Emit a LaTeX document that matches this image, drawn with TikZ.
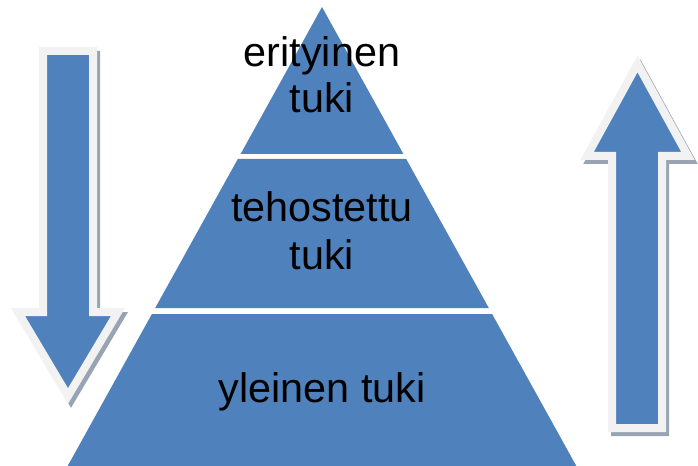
\documentclass[tikz,border=0pt]{standalone}
\usepackage{fontspec}
\setmainfont{Liberation Sans}
\definecolor{pblue}{HTML}{4F81BD}
\definecolor{rimc}{HTML}{F2F2F2}
\definecolor{shadc}{HTML}{98A4B4}
\begin{document}
\begin{tikzpicture}[x=0.75pt,y=-0.75pt,
  band/.style={fill=pblue,draw=none},
  arrowbody/.style={fill=pblue,draw=rimc,line width=6pt,line join=miter},
  arrowshadow/.style={fill=shadc,draw=shadc,line width=6pt,line join=miter},
  lbl/.style={anchor=base,inner sep=0pt,font=\fontsize{31}{36}\selectfont,text=black}]
\useasboundingbox (0,0) rectangle (698,466);
% pyramid bands
\path[band] (322,7) -- (403.4,154) -- (240.6,154) -- cycle;
\path[band] (237.8,159) -- (406.2,159) -- (488.8,308) -- (155.2,308) -- cycle;
\path[band] (151.9,314) -- (492.1,314) -- (578,469) -- (66,469) -- cycle;
% left arrow (down)
\draw[arrowshadow,shift={(3,4)}] (43,51) -- (93,51) -- (93,312) -- (118,312) -- (68,396) -- (18,312) -- (43,312) -- cycle;
\draw[arrowbody] (43,51) -- (93,51) -- (93,312) -- (118,312) -- (68,396) -- (18,312) -- (43,312) -- cycle;
% right arrow (up)
\draw[arrowshadow,shift={(3,4)}] (612,428) -- (662,428) -- (662,156) -- (688,156) -- (637.5,64) -- (587,156) -- (612,156) -- cycle;
\draw[arrowbody] (612,428) -- (662,428) -- (662,156) -- (688,156) -- (637.5,64) -- (587,156) -- (612,156) -- cycle;
% labels
\node[lbl] (t1) at (322,67) {erityinen};
\node[lbl] (t2) at (322,113) {tuki};
\node[lbl] (m1) at (322,222) {tehostettu};
\node[lbl] (m2) at (322,269) {tuki};
\node[lbl] (b1) at (322,402) {yleinen tuki};
\end{tikzpicture}
\end{document}
